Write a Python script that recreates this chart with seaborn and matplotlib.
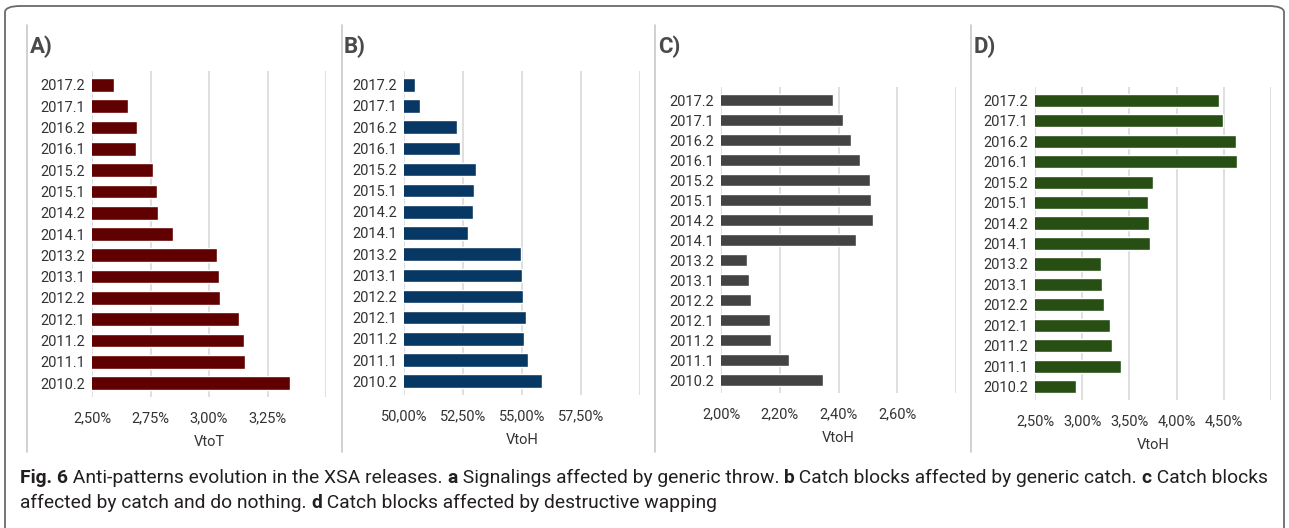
import numpy as np
import pandas as pd
import matplotlib
matplotlib.use('Agg')
import matplotlib.pyplot as plt
import seaborn as sns
from matplotlib.patches import FancyBboxPatch
from matplotlib.lines import Line2D
from matplotlib.ticker import FuncFormatter

# releases, top to bottom
releases = ["2017.2", "2017.1", "2016.2", "2016.1", "2015.2", "2015.1", "2014.2", "2014.1",
            "2013.2", "2013.1", "2012.2", "2012.1", "2011.2", "2011.1", "2010.2"]

# A) signalings affected by generic throw (VtoT, %)
vtot_a = [2.595, 2.654, 2.692, 2.688, 2.759, 2.776, 2.780, 2.846,
          3.036, 3.041, 3.048, 3.127, 3.149, 3.153, 3.346]
# B) generic catch (VtoH, %)
vtoh_b = [50.48, 50.68, 52.23, 52.36, 53.05, 52.98, 52.94, 52.73,
          54.94, 54.99, 55.06, 55.18, 55.10, 55.27, 55.85]
# C) catch and do nothing (VtoH, %)
vtoh_c = [2.381, 2.417, 2.441, 2.472, 2.508, 2.511, 2.518, 2.458,
          2.090, 2.095, 2.103, 2.167, 2.170, 2.231, 2.347]
# D) destructive wrapping (VtoH, %)
vtoh_d = [4.445, 4.487, 4.632, 4.643, 3.748, 3.695, 3.706, 3.720,
          3.204, 3.214, 3.228, 3.299, 3.320, 3.416, 2.935]

W, H = 1289, 528
sns.set_theme(style='white')
plt.rcParams['font.family'] = ['Roboto', 'DejaVu Sans']

fig = plt.figure(figsize=(W / 100, H / 100), dpi=100)

def px(x0, y0, x1, y1):
    return [x0 / W, 1 - y1 / H, (x1 - x0) / W, (y1 - y0) / H]

panels = [
    dict(tag='A)', vals=vtot_a, color='#600000', xlabel='VtoT', ticks=np.arange(2.50, 3.51, 0.25),
         box=(92, 71, 326, 397), tx=30, sep=27),
    dict(tag='B)', vals=vtoh_b, color='#073763', xlabel='VtoH', ticks=np.arange(50.0, 60.01, 2.5),
         box=(404, 71, 640, 395), tx=344, sep=342),
    dict(tag='C)', vals=vtoh_c, color='#434343', xlabel='VtoH', ticks=np.arange(2.0, 2.81, 0.2),
         box=(721, 87, 956, 393), tx=658, sep=655),
    dict(tag='D)', vals=vtoh_d, color='#274e13', xlabel='VtoH', ticks=np.arange(2.5, 5.01, 0.5),
         box=(1035, 87, 1271, 400), tx=974, sep=971),
]

for p in panels:
    ax = fig.add_axes(px(*p['box']))
    df = pd.DataFrame({'release': releases, 'value': p['vals']})
    sns.barplot(data=df, x='value', y='release', order=releases, orient='h',
                color=p['color'], saturation=1, width=0.64, ax=ax)
    t = p['ticks']
    ax.set_xlim(t[0], t[-1])
    ax.set_ylim(len(releases) - 0.35, -0.65)
    ax.set_xticks(t)
    last = t[-1]
    ax.xaxis.set_major_formatter(FuncFormatter(
        lambda v, pos, last=last: '' if abs(v - last) < 1e-6 else f"{v:.2f}%".replace('.', ',')))
    ax.grid(axis='x', color='#d9d9d9', linewidth=1.2)
    ax.grid(axis='y', visible=False)
    ax.set_axisbelow(True)
    for s in ax.spines.values():
        s.set_visible(False)
    ax.tick_params(axis='both', length=0, labelsize=10.5, labelcolor='#333333')
    ax.tick_params(axis='x', pad=10)
    ax.tick_params(axis='y', pad=5)
    ax.set_ylabel('')
    ax.set_xlabel(p['xlabel'], fontsize=10.5, color='#333333', labelpad=7)
    fig.text(p['tx'] / W, 1 - 47 / H, p['tag'], fontsize=16, fontweight='bold',
             color='#4a4a4a', va='center', ha='left')
    fig.add_artist(Line2D([p['sep'] / W] * 2, [1 - 25 / H, 1 - 452 / H],
                          color='#c8c8c8', linewidth=1.2))

# outer rounded frame
fig.add_artist(FancyBboxPatch((5 / W, -0.05), (W - 10) / W, 1 - 6 / H + 0.05,
                              boxstyle='round,pad=0,rounding_size=0.012',
                              transform=fig.transFigure, fill=False,
                              edgecolor='#6a6a6a', linewidth=1.3))

# caption with inline bold pieces, font size fitted so line 1 spans like the reference
cap_font = ['Roboto', 'DejaVu Sans']
lines = [
    [("Fig. 6", True), (" Anti-patterns evolution in the XSA releases. ", False), ("a", True),
     (" Signalings affected by generic throw. ", False), ("b", True),
     (" Catch blocks affected by generic catch. ", False), ("c", True), (" Catch blocks", False)],
    [("affected by catch and do nothing. ", False), ("d", True),
     (" Catch blocks affected by destructive wapping", False)],
]
renderer = fig.canvas.get_renderer()
base = 12.0
texts = []
for i, segs in enumerate(lines):
    row = []
    for txt, bold in segs:
        t = fig.text(0, 1 - (478 + i * 25) / H, txt, fontsize=base, family=cap_font,
                     fontweight='bold' if bold else 'normal', color='#231f20',
                     va='center', ha='left')
        row.append(t)
    texts.append(row)
w1 = sum(t.get_window_extent(renderer=renderer).width for t in texts[0])
size = base * 1242 / w1
for row in texts:
    x = 20
    for t in row:
        t.set_fontsize(size)
        t.set_x(x / W)
        x += t.get_window_extent(renderer=renderer).width

fig.savefig('out.png', dpi=100)
